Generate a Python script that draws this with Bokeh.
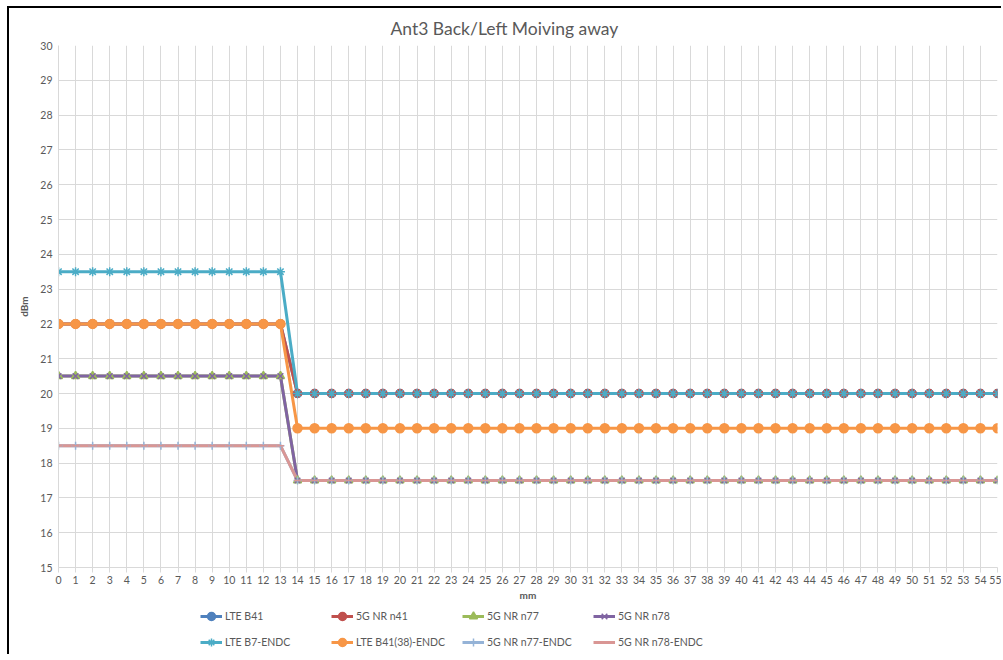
from bokeh.plotting import figure
from bokeh.layouts import column
from bokeh.models import Range1d, FixedTicker, Legend, LegendItem, ColumnDataSource
from bokeh.embed import file_html
from bokeh.resources import INLINE

mm = list(range(56))

lte_b41 = [22, 22, 22, 22, 22, 22, 22, 22, 22, 22, 22, 22, 22, 22,
           20, 20, 20, 20, 20, 20, 20, 20, 20, 20, 20, 20, 20, 20,
           20, 20, 20, 20, 20, 20, 20, 20, 20, 20, 20, 20, 20, 20,
           20, 20, 20, 20, 20, 20, 20, 20, 20, 20, 20, 20, 20, 20]
nr_n41 = [22, 22, 22, 22, 22, 22, 22, 22, 22, 22, 22, 22, 22, 22,
          20, 20, 20, 20, 20, 20, 20, 20, 20, 20, 20, 20, 20, 20,
          20, 20, 20, 20, 20, 20, 20, 20, 20, 20, 20, 20, 20, 20,
          20, 20, 20, 20, 20, 20, 20, 20, 20, 20, 20, 20, 20, 20]
nr_n77 = [20.5, 20.5, 20.5, 20.5, 20.5, 20.5, 20.5, 20.5, 20.5, 20.5, 20.5, 20.5, 20.5, 20.5,
          17.5, 17.5, 17.5, 17.5, 17.5, 17.5, 17.5, 17.5, 17.5, 17.5, 17.5, 17.5, 17.5, 17.5,
          17.5, 17.5, 17.5, 17.5, 17.5, 17.5, 17.5, 17.5, 17.5, 17.5, 17.5, 17.5, 17.5, 17.5,
          17.5, 17.5, 17.5, 17.5, 17.5, 17.5, 17.5, 17.5, 17.5, 17.5, 17.5, 17.5, 17.5, 17.5]
nr_n78 = [20.5, 20.5, 20.5, 20.5, 20.5, 20.5, 20.5, 20.5, 20.5, 20.5, 20.5, 20.5, 20.5, 20.5,
          17.5, 17.5, 17.5, 17.5, 17.5, 17.5, 17.5, 17.5, 17.5, 17.5, 17.5, 17.5, 17.5, 17.5,
          17.5, 17.5, 17.5, 17.5, 17.5, 17.5, 17.5, 17.5, 17.5, 17.5, 17.5, 17.5, 17.5, 17.5,
          17.5, 17.5, 17.5, 17.5, 17.5, 17.5, 17.5, 17.5, 17.5, 17.5, 17.5, 17.5, 17.5, 17.5]
lte_b7_endc = [23.5, 23.5, 23.5, 23.5, 23.5, 23.5, 23.5, 23.5, 23.5, 23.5, 23.5, 23.5, 23.5, 23.5,
               20, 20, 20, 20, 20, 20, 20, 20, 20, 20, 20, 20, 20, 20,
               20, 20, 20, 20, 20, 20, 20, 20, 20, 20, 20, 20, 20, 20,
               20, 20, 20, 20, 20, 20, 20, 20, 20, 20, 20, 20, 20, 20]
lte_b41_38_endc = [22, 22, 22, 22, 22, 22, 22, 22, 22, 22, 22, 22, 22, 22,
                   19, 19, 19, 19, 19, 19, 19, 19, 19, 19, 19, 19, 19, 19,
                   19, 19, 19, 19, 19, 19, 19, 19, 19, 19, 19, 19, 19, 19,
                   19, 19, 19, 19, 19, 19, 19, 19, 19, 19, 19, 19, 19, 19]
nr_n77_endc = [18.5, 18.5, 18.5, 18.5, 18.5, 18.5, 18.5, 18.5, 18.5, 18.5, 18.5, 18.5, 18.5, 18.5,
               17.5, 17.5, 17.5, 17.5, 17.5, 17.5, 17.5, 17.5, 17.5, 17.5, 17.5, 17.5, 17.5, 17.5,
               17.5, 17.5, 17.5, 17.5, 17.5, 17.5, 17.5, 17.5, 17.5, 17.5, 17.5, 17.5, 17.5, 17.5,
               17.5, 17.5, 17.5, 17.5, 17.5, 17.5, 17.5, 17.5, 17.5, 17.5, 17.5, 17.5, 17.5, 17.5]
nr_n78_endc = [18.5, 18.5, 18.5, 18.5, 18.5, 18.5, 18.5, 18.5, 18.5, 18.5, 18.5, 18.5, 18.5, 18.5,
               17.5, 17.5, 17.5, 17.5, 17.5, 17.5, 17.5, 17.5, 17.5, 17.5, 17.5, 17.5, 17.5, 17.5,
               17.5, 17.5, 17.5, 17.5, 17.5, 17.5, 17.5, 17.5, 17.5, 17.5, 17.5, 17.5, 17.5, 17.5,
               17.5, 17.5, 17.5, 17.5, 17.5, 17.5, 17.5, 17.5, 17.5, 17.5, 17.5, 17.5, 17.5, 17.5]

series_names = ["LTE B41", "5G NR n41", "5G NR n77", "5G NR n78",
                "LTE B7-ENDC", "LTE B41(38)-ENDC", "5G NR n77-ENDC", "5G NR n78-ENDC"]
series_values = [lte_b41, nr_n41, nr_n77, nr_n78,
                 lte_b7_endc, lte_b41_38_endc, nr_n77_endc, nr_n78_endc]
series_colors = ["#4F81BD", "#C0504D", "#9BBB59", "#8064A2",
                 "#4BACC6", "#F79646", "#95B3D7", "#D99694"]
series_markers = ["circle", "circle", "triangle", "x",
                  "asterisk", "circle", "cross", "dash"]
series_msize = [8, 8, 8, 8, 9, 9, 8, 7]

y_ticks = list(range(15, 31))
title_text = "Ant3 Back/Left Moiving away"
x_label = "mm"
y_label = "dBm"

FONT = "Lato"
GREY = "#595959"
GRID = "#D9D9D9"

# the whole chart sits inside a box whose left/top black border starts at (7, 6)
p = figure(width=992, height=595, x_range=Range1d(0, 55), y_range=Range1d(15, 30),
           output_backend="svg", toolbar_location=None,
           min_border_left=49, min_border_right=4, min_border_top=35, min_border_bottom=36,
           title=title_text)
p.outline_line_color = None
p.background_fill_color = "white"
p.border_fill_color = "white"

p.title.align = "left"
p.title.offset = 332
p.title.standoff = 14
p.title.text_font = FONT
p.title.text_font_size = "17.5px"
p.title.text_font_style = "normal"
p.title.text_color = GREY

p.xaxis.ticker = FixedTicker(ticks=mm)
p.yaxis.ticker = FixedTicker(ticks=y_ticks)
p.xgrid.ticker = FixedTicker(ticks=mm)
p.ygrid.ticker = FixedTicker(ticks=y_ticks)
p.grid.grid_line_color = GRID
p.grid.grid_line_width = 1

for ax in (p.xaxis[0], p.yaxis[0]):
    ax.axis_line_color = GRID
    ax.major_tick_line_color = GRID
    ax.minor_tick_line_color = None
    ax.major_tick_in = 0
    ax.major_label_text_font = FONT
    ax.major_label_text_font_size = "10.5px"
    ax.major_label_text_color = GREY
    ax.axis_label_text_font = FONT
    ax.axis_label_text_font_size = "10px"
    ax.axis_label_text_font_style = "bold"
    ax.axis_label_text_color = GREY

p.xaxis.major_tick_out = 5
p.xaxis.major_label_standoff = 3
p.xaxis.axis_label_standoff = 2
p.yaxis.major_tick_out = 0
p.yaxis.major_label_standoff = 6
p.yaxis.axis_label_standoff = 7
p.xaxis.axis_label = x_label
p.yaxis.axis_label = y_label

for vals, col in zip(series_values, series_colors):
    src = ColumnDataSource(dict(x=mm, y=vals))
    p.line("x", "y", source=src, line_color=col, line_width=3)

for vals, col, mk, ms in zip(series_values, series_colors, series_markers, series_msize):
    src = ColumnDataSource(dict(x=mm, y=vals))
    p.scatter("x", "y", source=src, marker=mk, size=ms,
              fill_color=col, line_color=col, line_width=1.5)

# legend strip below the chart: its sample renderers use the same series,
# but this strip's y range lies below every value, so only the legend shows
pl = figure(width=992, height=51, x_range=Range1d(0, 55), y_range=Range1d(0, 1),
            output_backend="svg", toolbar_location=None,
            x_axis_type=None, y_axis_type=None,
            min_border_left=0, min_border_right=0, min_border_top=0, min_border_bottom=0)
pl.outline_line_color = None
pl.grid.visible = False
pl.background_fill_color = "white"
pl.border_fill_color = "white"

items = []
for n, vals, col, mk, ms in zip(series_names, series_values, series_colors,
                                 series_markers, series_msize):
    src = ColumnDataSource(dict(x=mm, y=vals))
    lr = pl.line("x", "y", source=src, line_color=col, line_width=3)
    mr = pl.scatter("x", "y", source=src, marker=mk, size=ms,
                    fill_color=col, line_color=col, line_width=1.5)
    items.append(LegendItem(label=n, renderers=[lr, mr]))

legend = Legend(items=items, location=(142, 2), orientation="horizontal", ncols=4,
                glyph_width=22, glyph_height=20, label_standoff=3, label_width=100,
                spacing=6, padding=0, margin=0,
                label_text_font=FONT, label_text_font_size="10.5px", label_text_color=GREY,
                border_line_color=None, background_fill_alpha=0)
pl.add_layout(legend, "center")

layout = column(p, pl, spacing=0)
layout.styles = {"margin-left": "7px", "margin-top": "6px",
                 "border-left": "2px solid #000000", "border-top": "2px solid #000000"}
open("out.html", "w").write(file_html(layout, INLINE))
